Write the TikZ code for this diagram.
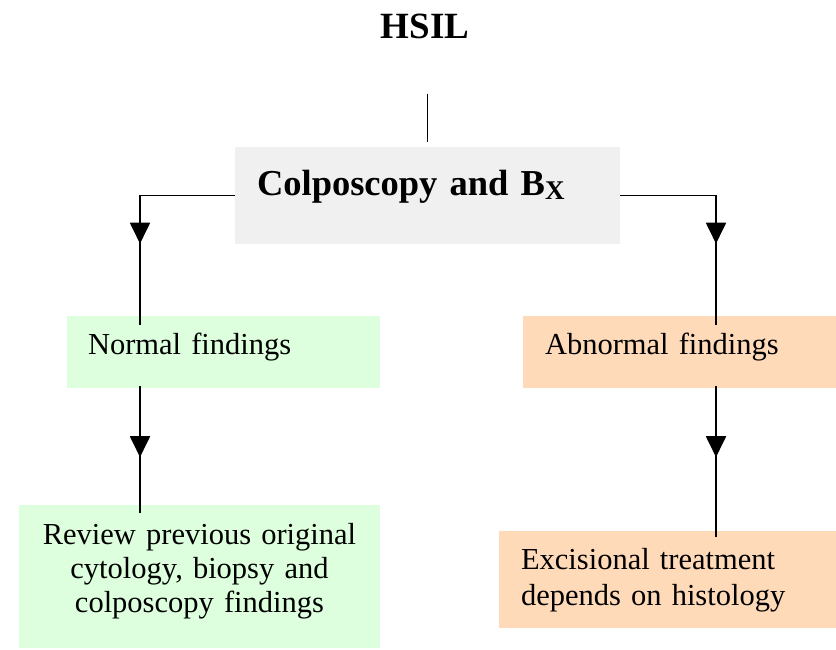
\documentclass[tikz,border=0pt]{standalone}
\usepackage{fontspec}
\setmainfont{Liberation Serif}
\usetikzlibrary{arrows.meta,calc,decorations.markings}

\definecolor{boxgray}{RGB}{240,240,240}
\definecolor{normgreen}{RGB}{221,255,221}
\definecolor{abnpeach}{RGB}{255,218,185}

\begin{document}
\begin{tikzpicture}[x=1pt,y=-1pt,
    conn/.style={line width=1.9pt},
    midarrow/.style={postaction={decorate}, decoration={markings, mark=at position #1 with {\arrow{Triangle[width=20pt,length=21pt]}}}},
    headbox/.style={fill=boxgray, inner xsep=22pt, inner ysep=0pt, text width=341pt, align=left, text height=48pt, text depth=49pt, font=\bfseries\fontsize{36.5}{40}\selectfont},
    findbox/.style={inner ysep=0pt, align=left, font=\fontsize{30.5}{34}\selectfont}
  ]
  \useasboundingbox (0,0) rectangle (836,649);

  % title and first step
  \node[font=\bfseries\fontsize{37}{40}\selectfont, inner sep=0pt, anchor=base] (hsil) at (425,38) {HSIL};
  \node[headbox] (colp) at (427.5,195.5) {Colposcopy and B\raisebox{-4pt}{\fontsize{27}{27}\selectfont X}};

  % findings
  \node[findbox, fill=normgreen, inner xsep=21pt, text width=271pt, text height=38pt, text depth=34pt] (normal) at (223.5,352) {Normal findings};
  \node[findbox, fill=abnpeach, inner xsep=22pt, text width=269pt, text height=38pt, text depth=34pt] (abnormal) at (679.5,352) {Abnormal findings};

  % follow-up
  \node[findbox, fill=normgreen, align=center, inner xsep=0pt, text width=361pt, text height=39pt, text depth=104pt] (review) at (199.5,576.5) {Review previous original\\cytology, biopsy and\\colposcopy findings};
  \node[findbox, fill=abnpeach, inner xsep=22pt, text width=293pt, text height=38pt, text depth=59pt, font=\fontsize{30.5}{36}\selectfont] (exc) at (667.5,579.5) {Excisional treatment\\depends on histology};

  \coordinate (lx) at (140,0);
  \coordinate (rx) at (716,0);

  % connectors
  \draw[conn, shorten <=55pt, shorten >=5pt] (hsil.south -| colp.north) -- (colp.north);
  \draw[conn, midarrow=143pt] (colp.west) -| ($(lx |- normal.north)+(0,9)$);
  \draw[conn, midarrow=144pt] (colp.east) -| ($(rx |- abnormal.north)+(0,9)$);
  \draw[conn, midarrow=71pt] ($(lx |- normal.south)+(0,-2)$) -- ($(lx |- review.north)+(0,8)$);
  \draw[conn, midarrow=71pt] ($(rx |- abnormal.south)+(0,-2)$) -- ($(rx |- exc.north)+(0,6)$);
\end{tikzpicture}
\end{document}
